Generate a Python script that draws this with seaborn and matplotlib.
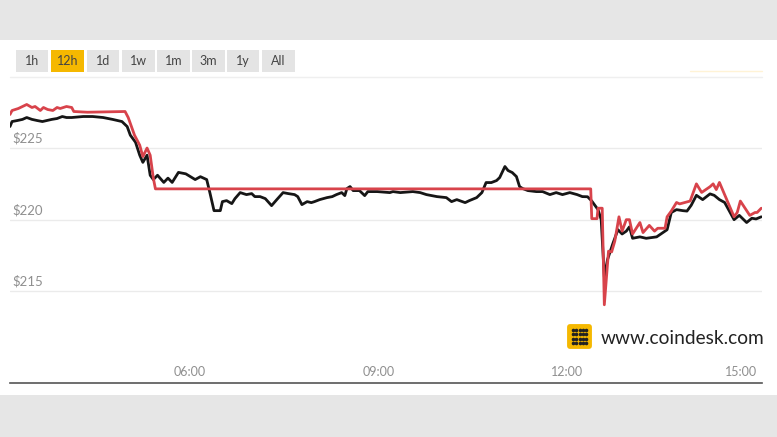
import numpy as np
import pandas as pd
import matplotlib
matplotlib.use("Agg")
import matplotlib.pyplot as plt
import seaborn as sns
from matplotlib.patches import Rectangle, FancyBboxPatch

# Bitcoin price over the last 12h (black) and a second index (red)
black_times = ["03:08", "03:10", "03:15", "03:20", "03:24", "03:29", "03:34", "03:39", "03:43", "03:48",
               "03:53", "03:58", "04:02", "04:07", "04:18", "04:27", "04:37", "04:46", "04:55", "05:00",
               "05:03", "05:08", "05:12", "05:15", "05:19", "05:22", "05:25", "05:29", "05:35", "05:39",
               "05:43", "05:49", "05:56", "06:05", "06:10", "06:16", "06:19", "06:23", "06:29", "06:31",
               "06:35", "06:40", "06:43", "06:48", "06:54", "06:59", "07:02", "07:07", "07:12", "07:18",
               "07:23", "07:29", "07:34", "07:40", "07:43", "07:47", "07:52", "07:56", "07:59", "08:04",
               "08:11", "08:16", "08:20", "08:25", "08:28", "08:30", "08:33", "08:36", "08:42", "08:47",
               "08:50", "08:59", "09:11", "09:14", "09:21", "09:33", "09:40", "09:46", "09:56", "10:05",
               "10:10", "10:15", "10:23", "10:27", "10:34", "10:39", "10:43", "10:48", "10:53", "10:56",
               "11:01", "11:04", "11:08", "11:12", "11:15", "11:18", "11:23", "11:31", "11:37", "11:44",
               "11:50", "11:56", "12:03", "12:10", "12:15", "12:20", "12:24", "12:29", "12:30", "12:33",
               "12:36", "12:39", "12:44", "12:49", "12:53", "12:57", "13:00", "13:03", "13:10", "13:16",
               "13:26", "13:36", "13:40", "13:45", "13:51", "13:55", "13:59", "14:04", "14:10", "14:17",
               "14:21", "14:26", "14:31", "14:40", "14:45", "14:52", "14:57", "15:01", "15:06"]
black_price = [226.5, 226.85, 226.92, 227.0, 227.13, 227.0, 226.92, 226.85, 226.92, 227.0,
               227.06, 227.2, 227.13, 227.13, 227.2, 227.2, 227.13, 227.0, 226.85, 226.5,
               225.9, 225.4, 224.5, 224.0, 224.5, 223.1, 222.8, 223.1, 222.6, 222.9,
               222.6, 223.3, 223.2, 222.8, 223.0, 222.8, 221.9, 220.63, 220.63, 221.26,
               221.33, 221.12, 221.47, 221.89, 221.75, 221.82, 221.61, 221.61, 221.47, 220.98,
               221.4, 221.89, 221.82, 221.75, 221.61, 221.05, 221.26, 221.19, 221.26, 221.4,
               221.54, 221.61, 221.75, 221.89, 221.68, 222.17, 222.31, 222.03, 222.03, 221.68,
               221.96, 221.96, 221.89, 221.96, 221.89, 221.96, 221.89, 221.75, 221.61, 221.54,
               221.26, 221.4, 221.19, 221.33, 221.54, 221.89, 222.59, 222.59, 222.73, 222.94,
               223.71, 223.43, 223.29, 223.01, 222.31, 222.17, 222.03, 221.96, 221.96, 221.75,
               221.89, 221.75, 221.89, 221.75, 221.61, 221.6, 221.3, 220.8, 220.7, 220.0,
               216.0, 217.2, 218.3, 219.3, 219.0, 219.2, 219.5, 218.7, 218.8, 218.7,
               218.8, 219.3, 220.5, 220.7, 220.63, 220.6, 221.0, 221.7, 221.4, 221.8,
               221.7, 221.4, 221.2, 220.0, 220.3, 219.8, 220.1, 220.05, 220.2]

red_times = ["03:08", "03:10", "03:16", "03:20", "03:24", "03:29", "03:32", "03:37", "03:40", "03:44",
             "03:49", "03:53", "03:56", "03:59", "04:02", "04:07", "04:09", "04:22", "04:58", "05:01",
             "05:07", "05:12", "05:15", "05:19", "05:22", "05:25", "05:27", "12:23", "12:24", "12:29",
             "12:30", "12:34", "12:36", "12:40", "12:43", "12:46", "12:50", "12:53", "12:57", "13:00",
             "13:03", "13:10", "13:13", "13:19", "13:24", "13:27", "13:34", "13:36", "13:40", "13:45",
             "13:48", "13:58", "14:04", "14:09", "14:17", "14:20", "14:23", "14:26", "14:33", "14:40",
             "14:43", "14:46", "14:55", "15:00", "15:02", "15:06"]
red_price = [227.34, 227.62, 227.76, 227.9, 228.04, 227.83, 227.9, 227.62, 227.83, 227.69,
             227.62, 227.83, 227.76, 227.83, 227.9, 227.83, 227.55, 227.5, 227.55, 227.13,
             225.9, 225.2, 224.4, 225.0, 224.5, 222.9, 222.15, 222.15, 220.07, 220.07,
             220.8, 220.8, 214.06, 217.8, 217.75, 218.5, 220.2, 219.2, 220.0, 220.0,
             219.0, 219.8, 219.1, 219.6, 219.2, 219.4, 219.4, 220.2, 220.6, 221.2,
             221.1, 221.3, 222.5, 221.9, 222.3, 222.5, 222.1, 222.6, 221.4, 220.2,
             220.5, 221.3, 220.3, 220.5, 220.5, 220.8]

y_ticks = [215, 220, 225]
x_ticks = [6, 9, 12, 15]
x_labels = ["06:00", "09:00", "12:00", "15:00"]
ranges = ["1h", "12h", "1d", "1w", "1m", "3m", "1y", "All"]


def to_hours(times):
    t = pd.to_datetime(times, format="%H:%M")
    return t.hour + t.minute / 60.0


black = pd.DataFrame({"t": to_hours(black_times), "price": black_price})
red = pd.DataFrame({"t": to_hours(red_times), "price": red_price})

sns.set_style("white")
plt.rcParams["font.family"] = ["Lato", "DejaVu Sans"]

W, H = 777, 437
fig = plt.figure(figsize=(W / 100, H / 100), dpi=100)
fig.patch.set_facecolor("#e6e6e6")


def fx(x):
    return x / W


def fy(y):
    return 1 - y / H


# white card
fig.add_artist(Rectangle((0, fy(395)), 1, fy(40) - fy(395), transform=fig.transFigure,
                         facecolor="white", edgecolor="none", zorder=0))

# range buttons
btn_x = [16, 51, 87, 122, 157, 192, 227, 262]
btn_w = [32, 33, 32, 33, 33, 33, 32, 33]
for lab, bx, bw in zip(ranges, btn_x, btn_w):
    col = "#f5b800" if lab == "12h" else "#e4e4e4"
    fig.add_artist(Rectangle((fx(bx), fy(72)), bw / W, 22 / H, transform=fig.transFigure,
                             facecolor=col, edgecolor="none"))
    fig.text(fx(bx + bw / 2), fy(61), lab, ha="center", va="center", fontsize=9, color="#444444")
fig.add_artist(plt.Line2D([fx(10), fx(762)], [fy(77), fy(77)], transform=fig.transFigure,
                          color="#efefef", lw=1))
fig.add_artist(plt.Line2D([fx(690), fx(762)], [fy(71), fy(71)], transform=fig.transFigure,
                          color="#fff3d6", lw=1))

# main chart
ax = fig.add_axes([fx(10), fy(383), fx(762) - fx(10), fy(85) - fy(383)])
ax.set_facecolor("none")
sns.lineplot(data=black, x="t", y="price", ax=ax, color="#161616", lw=2,
             estimator=None, sort=False, zorder=3)
sns.lineplot(data=red, x="t", y="price", ax=ax, color="#d8434b", lw=2,
             estimator=None, sort=False, zorder=4)

x0, x1 = 6 - 180 / 62.8, 15 + 7 / 62.8
ax.set_xlim(x0, x1)
ax.set_ylim(208.6, 229.4)
ax.set_yticks(y_ticks)
ax.set_xticks(x_ticks)
ax.set_xticklabels([])
ax.set_yticklabels([])
ax.tick_params(length=0)
ax.set_xlabel("")
ax.set_ylabel("")
ax.grid(axis="y", color="#ebebeb", lw=1)
ax.grid(axis="x", visible=False)
for s in ["top", "left", "right"]:
    ax.spines[s].set_visible(False)
ax.spines["bottom"].set_color("#555555")
ax.spines["bottom"].set_linewidth(1.2)

for v in y_ticks:
    ax.text(0.003, v + 0.25, r"\$" + str(v), transform=ax.get_yaxis_transform(),
            ha="left", va="bottom", fontsize=9.5, color="#8f8f8f")
for t, lab in zip(x_ticks, x_labels):
    if t == 15:
        ax.text(x1 - 0.08, 0.037, lab, ha="right", va="center", fontsize=9,
                color="#8f8f8f", transform=ax.get_xaxis_transform())
    else:
        ax.text(t, 0.037, lab, ha="center", va="center", fontsize=9,
                color="#8f8f8f", transform=ax.get_xaxis_transform())

# coindesk watermark
lax = fig.add_axes([fx(566), fy(350), 27 / W, 27 / H])
lax.set_xlim(0, 1)
lax.set_ylim(0, 1)
lax.axis("off")
lax.add_patch(FancyBboxPatch((0.04, 0.04), 0.92, 0.92, boxstyle="round,pad=0,rounding_size=0.12",
                             facecolor="#f5b800", edgecolor="none"))
gx, gy = np.meshgrid(np.linspace(0.25, 0.75, 5), np.linspace(0.25, 0.75, 4))
lax.scatter(gx.ravel(), gy.ravel(), s=2.5, color="#222222", zorder=3)
fig.text(fx(601), fy(338), "www.coindesk.com", ha="left", va="center", fontsize=13.8, color="#222222")

fig.savefig("out.png", dpi=100, facecolor=fig.get_facecolor())
